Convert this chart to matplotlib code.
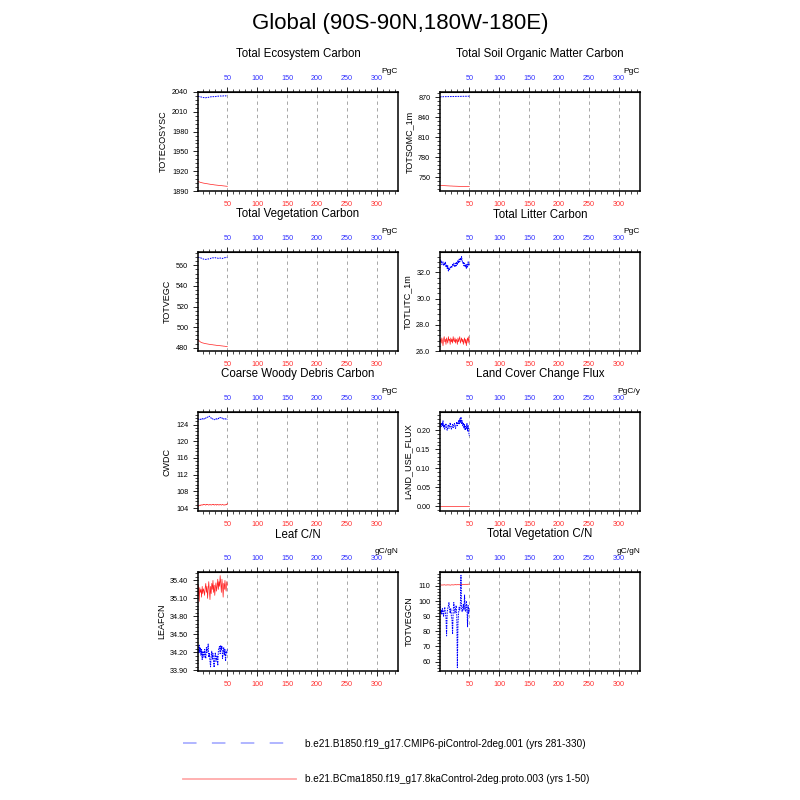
import matplotlib
matplotlib.use("Agg")
import matplotlib.pyplot as plt
from matplotlib.lines import Line2D
from matplotlib.ticker import MultipleLocator, AutoMinorLocator, FormatStrFormatter

plt.rcParams["font.family"] = ["Liberation Sans", "DejaVu Sans"]

years = list(range(1, 51))

titles = ["Total Ecosystem Carbon", "Total Soil Organic Matter Carbon",
          "Total Vegetation Carbon", "Total Litter Carbon",
          "Coarse Woody Debris Carbon", "Land Cover Change Flux",
          "Leaf C/N", "Total Vegetation C/N"]
varnames = ["TOTECOSYSC", "TOTSOMC_1m", "TOTVEGC", "TOTLITC_1m",
            "CWDC", "LAND_USE_FLUX", "LEAFCN", "TOTVEGCN"]
units = ["PgC", "PgC", "PgC", "PgC", "PgC", "PgC/y", "gC/gN", "gC/gN"]

case_labels = ["b.e21.B1850.f19_g17.CMIP6-piControl-2deg.001 (yrs 281-330)",
               "b.e21.BCma1850.f19_g17.8kaControl-2deg.proto.003 (yrs 1-50)"]

eco_blue = [2033.6, 2033.2, 2033.0, 2032.8, 2032.5, 2032.6, 2032.2, 2031.9, 2031.8, 2031.6,
            2031.5, 2031.7, 2031.4, 2031.2, 2031.6, 2031.9, 2032.0, 2031.8, 2032.1, 2032.3,
            2032.2, 2032.6, 2032.8, 2032.5, 2032.7, 2033.0, 2032.9, 2033.1, 2033.3, 2033.0,
            2033.2, 2033.5, 2033.4, 2033.6, 2033.8, 2033.5, 2033.7, 2033.9, 2034.0, 2033.8,
            2034.1, 2034.0, 2033.9, 2034.2, 2034.1, 2034.3, 2034.0, 2034.2, 2034.1, 2034.3]
eco_red = [1904.6, 1904.2, 1903.8, 1903.5, 1903.1, 1902.9, 1902.6, 1902.4, 1902.2, 1902.0,
           1901.8, 1901.7, 1901.5, 1901.3, 1901.2, 1901.0, 1900.9, 1900.7, 1900.6, 1900.4,
           1900.3, 1900.1, 1900.0, 1899.9, 1899.7, 1899.6, 1899.5, 1899.3, 1899.2, 1899.1,
           1899.0, 1898.9, 1898.8, 1898.7, 1898.6, 1898.5, 1898.4, 1898.3, 1898.2, 1898.1,
           1898.0, 1897.9, 1897.8, 1897.7, 1897.6, 1897.5, 1897.4, 1897.3, 1897.2, 1897.1]

soil_blue = [870.4, 870.3, 870.4, 870.3, 870.4, 870.4, 870.5, 870.4, 870.5, 870.5,
             870.5, 870.6, 870.5, 870.6, 870.6, 870.6, 870.7, 870.6, 870.7, 870.7,
             870.7, 870.8, 870.7, 870.8, 870.8, 870.8, 870.8, 870.9, 870.8, 870.9,
             870.9, 870.9, 870.9, 871.0, 870.9, 871.0, 871.0, 871.0, 871.0, 871.1,
             871.0, 871.1, 871.1, 871.1, 871.1, 871.2, 871.1, 871.2, 871.2, 871.2]
soil_red = [737.4, 737.3, 737.3, 737.2, 737.2, 737.1, 737.1, 737.0, 737.0, 736.9,
            736.9, 736.8, 736.8, 736.7, 736.7, 736.6, 736.6, 736.5, 736.5, 736.5,
            736.4, 736.4, 736.3, 736.3, 736.3, 736.2, 736.2, 736.2, 736.1, 736.1,
            736.1, 736.0, 736.0, 736.0, 735.9, 735.9, 735.9, 735.9, 735.8, 735.8,
            735.8, 735.8, 735.7, 735.7, 735.7, 735.7, 735.7, 735.6, 735.6, 735.6]

vegc_blue = [567.8, 567.9, 567.6, 567.7, 567.4, 567.2, 566.9, 566.6, 566.4, 566.2,
             566.0, 566.1, 565.9, 565.8, 565.9, 566.0, 566.2, 566.1, 566.4, 566.6,
             566.5, 566.8, 567.0, 566.9, 567.2, 567.4, 567.3, 567.5, 567.6, 567.4,
             567.2, 567.0, 566.9, 567.1, 566.8, 566.7, 566.9, 567.2, 567.0, 566.7,
             566.6, 566.8, 567.1, 567.3, 567.5, 567.4, 567.7, 567.9, 567.8, 568.0]
vegc_red = [487.5, 487.1, 486.6, 486.1, 485.6, 485.3, 485.0, 484.8, 484.6, 484.5,
            484.3, 484.2, 484.0, 483.9, 483.8, 483.7, 483.6, 483.5, 483.4, 483.3,
            483.2, 483.1, 483.0, 482.9, 482.9, 482.8, 482.7, 482.6, 482.6, 482.5,
            482.4, 482.3, 482.3, 482.2, 482.1, 482.1, 482.0, 481.9, 481.9, 481.8,
            481.7, 481.7, 481.6, 481.5, 481.5, 481.4, 481.3, 481.2, 481.1, 481.0]

litc_blue = [33.0, 32.8, 32.9, 32.6, 32.7, 32.8, 32.5, 32.7, 32.6, 32.8,
             32.4, 32.6, 32.3, 32.5, 32.1, 32.3, 32.2, 32.4, 32.3, 32.5,
             32.4, 32.6, 32.5, 32.7, 32.6, 32.4, 32.7, 32.5, 32.8, 32.6,
             32.9, 32.7, 33.0, 32.8, 33.1, 32.9, 33.2, 32.9, 32.7, 32.8,
             32.5, 32.7, 32.4, 32.6, 32.3, 32.6, 32.4, 32.8, 32.5, 32.7]
litc_red = [26.7, 26.9, 26.6, 27.0, 26.8, 26.4, 26.9, 27.1, 26.7, 26.9,
            26.5, 27.0, 26.8, 26.6, 27.1, 26.8, 26.9, 26.5, 27.0, 26.7,
            26.9, 26.6, 27.1, 26.8, 26.7, 27.0, 26.6, 26.9, 26.8, 26.5,
            27.0, 26.7, 26.9, 27.1, 26.6, 26.8, 27.0, 26.7, 26.9, 26.5,
            26.8, 27.0, 26.6, 26.9, 26.4, 26.8, 27.0, 26.6, 27.1, 26.7]

cwdc_blue = [125.2, 125.3, 125.1, 125.2, 125.3, 125.2, 125.4, 125.3, 125.5, 125.4,
             125.3, 125.5, 125.4, 125.6, 125.5, 125.7, 125.8, 125.7, 125.9, 126.0,
             125.8, 125.7, 125.5, 125.6, 125.4, 125.3, 125.2, 125.1, 125.2, 125.3,
             125.2, 125.4, 125.3, 125.5, 125.4, 125.6, 125.5, 125.7, 125.6, 125.5,
             125.6, 125.4, 125.5, 125.3, 125.4, 125.5, 125.3, 125.4, 125.2, 125.2]
cwdc_red = [104.4, 104.5, 104.6, 104.7, 104.6, 104.8, 104.7, 104.8, 104.7, 104.9,
            104.8, 104.9, 104.8, 104.7, 104.9, 104.8, 104.9, 104.8, 104.7, 104.8,
            104.9, 104.8, 104.7, 104.8, 104.9, 104.8, 104.9, 104.7, 104.8, 104.8,
            104.9, 104.7, 104.8, 104.9, 104.8, 104.7, 104.8, 104.9, 104.8, 104.7,
            104.8, 104.9, 104.8, 104.7, 104.8, 104.7, 104.8, 104.9, 104.8, 105.1]

luf_blue = [0.205, 0.215, 0.210, 0.220, 0.212, 0.225, 0.208, 0.215, 0.203, 0.212,
            0.218, 0.205, 0.200, 0.210, 0.215, 0.205, 0.212, 0.220, 0.208, 0.203,
            0.210, 0.215, 0.207, 0.213, 0.218, 0.210, 0.205, 0.215, 0.222, 0.212,
            0.218, 0.225, 0.215, 0.230, 0.220, 0.235, 0.218, 0.225, 0.212, 0.220,
            0.205, 0.215, 0.200, 0.210, 0.205, 0.218, 0.198, 0.212, 0.195, 0.185]
luf_red = [0.0, 0.0, 0.0, 0.0, 0.0, 0.0, 0.0, 0.0, 0.0, 0.0,
           0.0, 0.0, 0.0, 0.0, 0.0, 0.0, 0.0, 0.0, 0.0, 0.0,
           0.0, 0.0, 0.0, 0.0, 0.0, 0.0, 0.0, 0.0, 0.0, 0.0,
           0.0, 0.0, 0.0, 0.0, 0.0, 0.0, 0.0, 0.0, 0.0, 0.0,
           0.0, 0.0, 0.0, 0.0, 0.0, 0.0, 0.0, 0.0, 0.0, 0.0]

leafcn_blue = [34.30, 34.18, 34.32, 34.20, 34.28, 34.15, 34.25, 34.08, 34.22, 34.20,
               34.12, 34.25, 34.18, 34.10, 34.28, 34.20, 34.25, 34.34, 34.12, 34.18,
               34.05, 33.96, 34.15, 34.22, 34.08, 34.18, 34.02, 33.95, 34.12, 34.20,
               34.05, 34.10, 34.15, 33.98, 34.22, 34.28, 34.30, 34.18, 34.32, 34.25,
               34.30, 34.10, 34.20, 34.28, 34.15, 34.25, 34.05, 34.22, 34.18, 34.25]
leafcn_red = [35.15, 35.32, 35.05, 35.28, 35.20, 35.25, 35.12, 35.30, 35.18, 35.26,
              35.22, 35.15, 35.28, 35.35, 35.20, 35.30, 35.10, 35.25, 35.38, 35.22,
              35.08, 35.30, 35.18, 35.35, 35.25, 35.40, 35.20, 35.32, 35.15, 35.28,
              35.36, 35.22, 35.30, 35.42, 35.25, 35.38, 35.30, 35.48, 35.35, 35.20,
              35.42, 35.30, 35.12, 35.35, 35.25, 35.40, 35.28, 35.22, 35.38, 35.32]

vegcn_blue = [100, 92, 94, 91, 95, 93, 90, 94, 96, 92,
              89, 77, 93, 95, 97, 99, 94, 92, 95, 90,
              88, 78, 93, 99, 96, 92, 95, 97, 91, 56,
              85, 92, 96, 94, 97, 117, 95, 93, 96, 98,
              94, 104, 95, 93, 100, 96, 83, 97, 92, 95]
vegcn_red = [110.8, 110.6, 110.7, 110.5, 110.6, 110.7, 110.6, 110.8, 110.7, 110.6,
             110.5, 110.7, 110.6, 110.8, 110.7, 110.6, 110.7, 110.5, 110.6, 110.7,
             110.8, 110.7, 110.6, 110.7, 110.8, 110.7, 110.9, 110.8, 110.7, 110.8,
             110.9, 110.8, 110.7, 110.9, 110.8, 110.9, 111.0, 110.9, 110.8, 110.9,
             111.0, 110.9, 111.0, 111.1, 111.0, 111.1, 111.0, 111.2, 111.1, 111.2]

blue_series = [eco_blue, soil_blue, vegc_blue, litc_blue, cwdc_blue, luf_blue, leafcn_blue, vegcn_blue]
red_series = [eco_red, soil_red, vegc_red, litc_red, cwdc_red, luf_red, leafcn_red, vegcn_red]

# axis setup per panel: limits, tick step, label format
ylims = [(1890, 2040), (729, 877.5), (476.8, 573), (26.0, 33.55),
         (103.3, 127.0), (-0.0123, 0.248), (33.89, 35.54), (53.8, 119.2)]
ysteps = [30, 30, 20, 2.0, 4, 0.05, 0.30, 10]
yfmts = ["%d", "%d", "%d", "%.1f", "%d", "%.2f", "%.2f", "%d"]

BLUE = "#0000ff"
RED = "#ff2020"

fig = plt.figure(figsize=(8, 8), dpi=100)
fig.text(0.5, 0.97, "Global (90S-90N,180W-180E)", ha="center", va="center", fontsize=16)

lefts = [0.2475, 0.55]
bottoms = [0.76125, 0.56125, 0.36125, 0.16125]

for i in range(8):
    ax = fig.add_axes([lefts[i % 2], bottoms[i // 2], 0.25, 0.12375])
    ax.plot(years, red_series[i], color=RED, lw=0.5)
    ax.plot(years, blue_series[i], color=BLUE, lw=0.7, linestyle=(0, (1.6, 1.0)))
    ax.set_xlim(1, 335)
    ax.set_ylim(*ylims[i])

    ax.xaxis.set_major_locator(MultipleLocator(50))
    ax.xaxis.set_minor_locator(MultipleLocator(10))
    ax.yaxis.set_major_locator(MultipleLocator(ysteps[i]))
    ax.yaxis.set_minor_locator(AutoMinorLocator(5))
    ax.yaxis.set_major_formatter(FormatStrFormatter(yfmts[i]))
    ax.grid(True, axis="x", which="major", color="#999999", lw=0.6, linestyle=(0, (4, 4)))

    ax.tick_params(axis="both", which="major", direction="out", length=3.5, width=0.6,
                   labelsize=5.2, pad=3.5)
    ax.tick_params(axis="both", which="minor", direction="out", length=2, width=0.5)
    ax.tick_params(axis="x", which="both", top=False, labelcolor="#ff3030")
    ax.tick_params(axis="y", which="both", right=False)
    for s in ax.spines.values():
        s.set_linewidth(1.1)

    top = ax.secondary_xaxis("top")
    top.xaxis.set_major_locator(MultipleLocator(50))
    top.xaxis.set_minor_locator(MultipleLocator(10))
    top.tick_params(axis="x", which="major", direction="out", length=3.5, width=0.6,
                    labelsize=5.2, pad=3.5, labelcolor="#3030ff")
    top.tick_params(axis="x", which="minor", direction="out", length=2, width=0.5)

    ax.set_ylabel(varnames[i], fontsize=6.5, labelpad=3)
    ax.annotate(titles[i], (0.5, 1.0), xycoords="axes fraction", xytext=(0, 27),
                textcoords="offset points", ha="center", va="center", fontsize=8.3)
    ax.annotate(units[i], (1.0, 1.0), xycoords="axes fraction", xytext=(0, 15),
                textcoords="offset points", ha="right", va="center", fontsize=6)

handles = [Line2D([], [], color="#aab0ff", lw=1.3, dashes=(7.5, 8.5)),
           Line2D([], [], color="#ffaaaa", lw=1.3)]
fig.legend(handles, case_labels, loc="upper left", bbox_to_anchor=(0.229, 0.0765),
           frameon=False, fontsize=7.2, handlelength=11.3, handletextpad=0.9,
           labelspacing=2.55, borderpad=0, borderaxespad=0)

fig.savefig("out.png", dpi=100)
